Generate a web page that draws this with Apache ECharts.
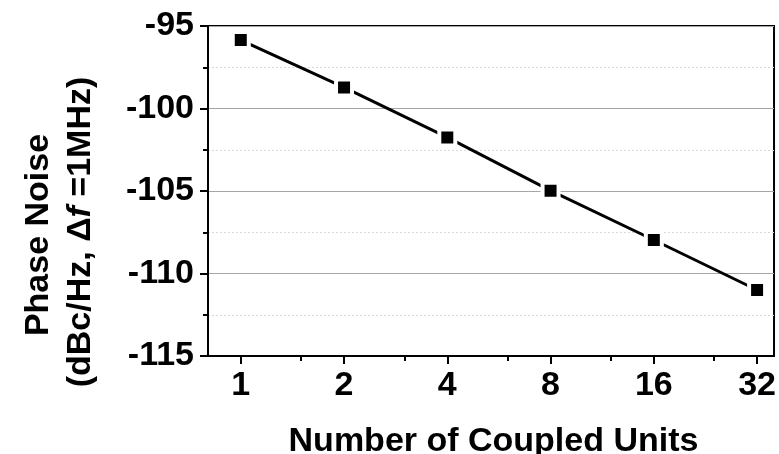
<!DOCTYPE html>
<html>
<head>
<meta charset="utf-8">
<script src="https://cdn.jsdelivr.net/npm/echarts@6/dist/echarts.min.js"></script>
<style>
  html, body { margin: 0; padding: 0; background: #fff; }
  #chart { width: 779px; height: 454px; }
</style>
</head>
<body>
<div id="chart"></div>
<script>
// ---- data ----
const units = [1, 2, 4, 8, 16, 32];
const phaseNoise = [-95.85, -98.72, -101.75, -104.98, -107.97, -111.0];
const minorUnits = [1.5, 3, 6, 12, 24];
const xRange = [0.8025, 35.85];
const yRange = [-115, -95];
const yStep = 5;
const xTitle = 'Number of Coupled Units';
const yTitle1 = 'Phase Noise';

const FONT = '"Liberation Sans", Arial, sans-serif';

const chart = echarts.init(document.getElementById('chart'), null, { renderer: 'canvas' });

const gridCfg = { left: 208, right: 1, top: 26, bottom: 98 };

const option = {
  backgroundColor: '#fff',
  animation: false,
  grid: Object.assign({ show: true, borderColor: '#000', borderWidth: 2, containLabel: false }, gridCfg),
  xAxis: [
    {
      type: 'log', logBase: 2, min: xRange[0], max: xRange[1],
      position: 'bottom',
      axisLine: { show: true, lineStyle: { color: '#000', width: 2 } },
      axisTick: { show: true, inside: false, length: 8, lineStyle: { color: '#000', width: 2 }, customValues: units },
      axisLabel: { show: true, customValues: units, margin: 13, color: '#000', fontSize: 34, fontWeight: 'bold', fontFamily: FONT,
        formatter: v => String(Math.round(v)) },
      splitLine: { show: false },
      minorTick: { show: false },
      minorSplitLine: { show: false }
    },
    {
      type: 'log', logBase: 2, min: xRange[0], max: xRange[1],
      position: 'bottom', offset: 0,
      axisLine: { show: false },
      axisTick: { show: true, inside: false, length: 5, lineStyle: { color: '#000', width: 2 }, customValues: minorUnits },
      axisLabel: { show: false },
      splitLine: { show: false }
    }
  ],
  yAxis: {
    type: 'value', min: yRange[0], max: yRange[1], interval: yStep,
    axisLine: { show: true, lineStyle: { color: '#000', width: 2 } },
    axisTick: { show: true, inside: false, length: 8, lineStyle: { color: '#000', width: 2 } },
    minorTick: { show: true, splitNumber: 2, length: 5, lineStyle: { color: '#000', width: 2 } },
    axisLabel: { margin: 14, color: '#000', fontSize: 34, fontWeight: 'bold', fontFamily: FONT },
    splitLine: { show: true, lineStyle: { color: '#a6a6a6', width: 1 } },
    minorSplitLine: { show: true, lineStyle: { color: '#d9d9d9', width: 1, type: [2, 2] } }
  },
  graphic: [
    {
      type: 'text', x: 38.5, y: 235, rotation: Math.PI / 2,
      style: { text: yTitle1, font: 'bold 34px ' + FONT, fill: '#000', align: 'center', verticalAlign: 'middle' }
    },
    {
      type: 'text', x: 81, y: 232, rotation: Math.PI / 2,
      style: {
        text: '{a|(dBc/Hz, Δ}{i|f}{a| =1MHz)}',
        align: 'center', verticalAlign: 'middle',
        rich: {
          a: { font: 'bold 34px ' + FONT, fill: '#000' },
          i: { font: 'italic bold 34px ' + FONT, fill: '#000' }
        }
      }
    },
    {
      type: 'text', x: 493.5, y: 442,
      style: { text: xTitle, font: 'bold 34px ' + FONT, fill: '#000', align: 'center', verticalAlign: 'middle' }
    }
  ],
  series: [
    {
      type: 'line',
      xAxisIndex: 0,
      data: units.map((u, i) => [u, phaseNoise[i]]),
      symbol: 'rect', symbolSize: 16,
      lineStyle: { color: '#000', width: 3 },
      itemStyle: { color: '#000', borderColor: '#fff', borderWidth: 4 },
      z: 5
    }
  ]
};

chart.setOption(option);
</script>
</body>
</html>
